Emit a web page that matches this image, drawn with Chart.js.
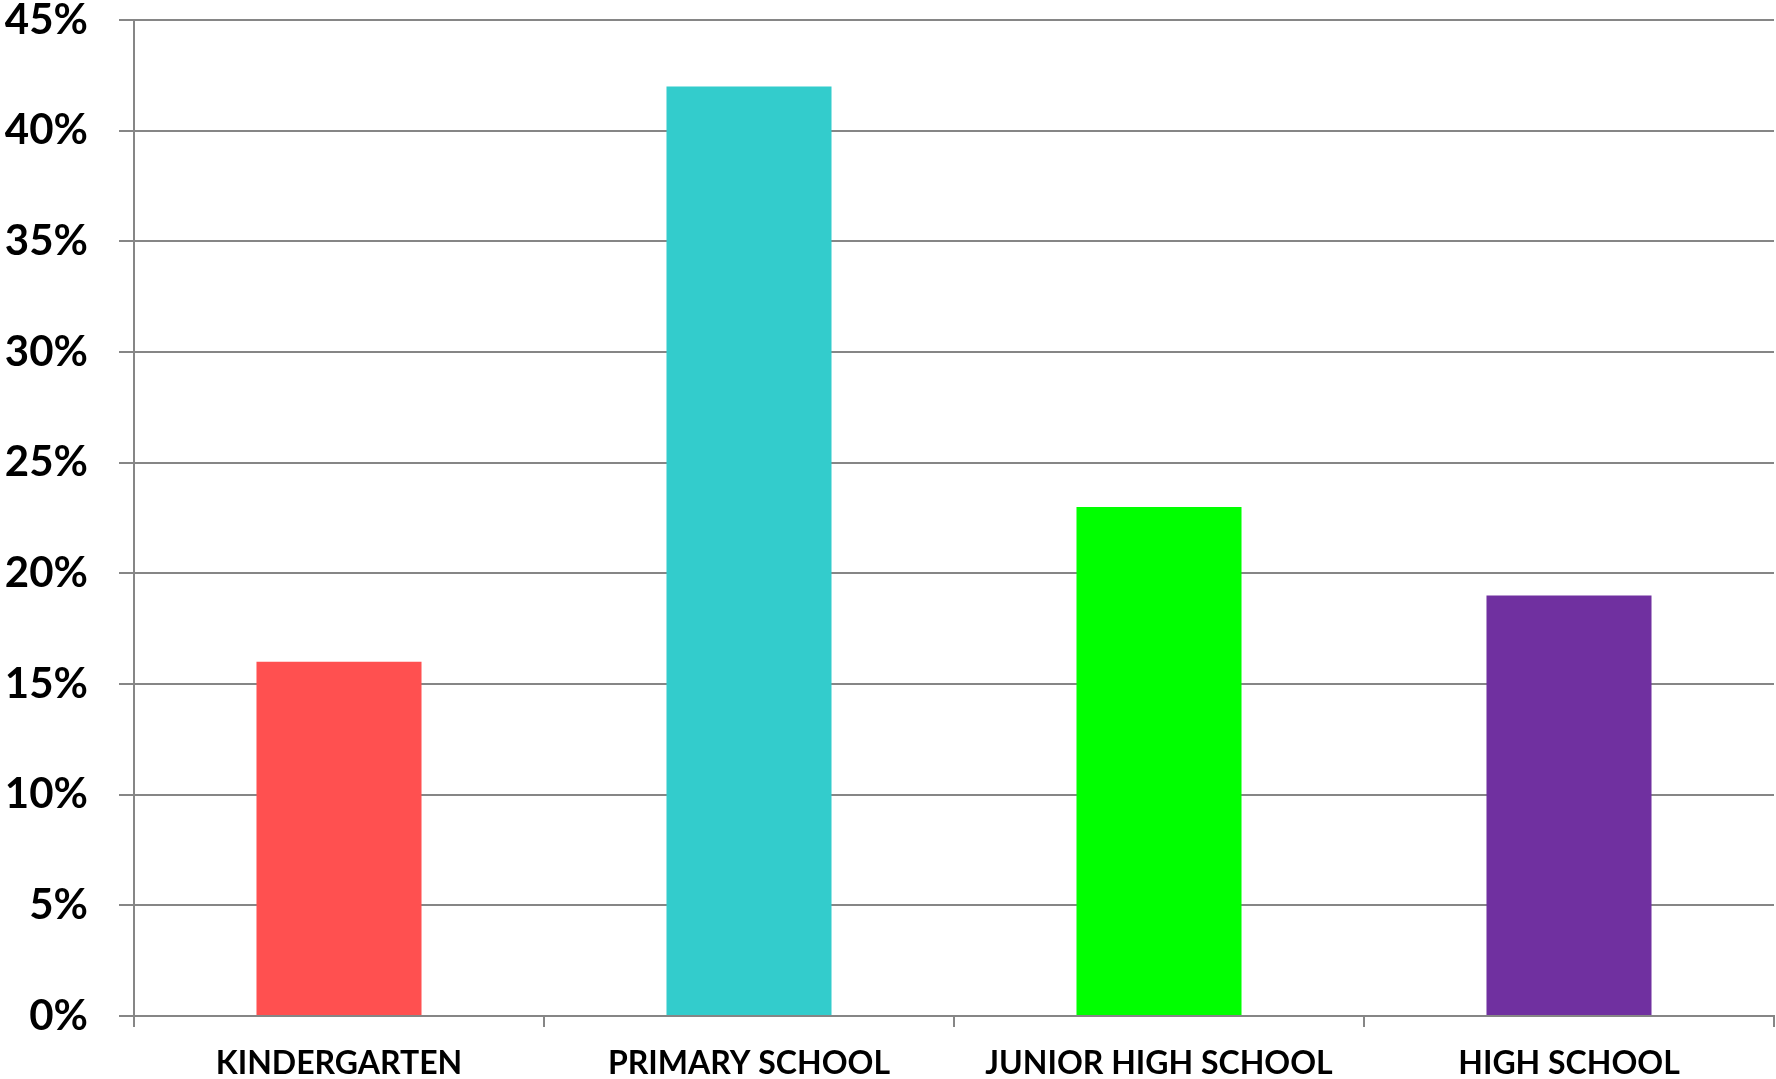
<!DOCTYPE html>
<html>
<head>
<meta charset="utf-8">
<style>
  html, body { margin: 0; padding: 0; background: #ffffff; }
  #wrap { width: 1776px; height: 1079px; position: relative; }
</style>
<script src="https://cdn.jsdelivr.net/npm/chart.js@4/dist/chart.umd.min.js"></script>
</head>
<body>
<div id="wrap"><canvas id="chart" width="1776" height="1079"></canvas></div>
<script>
// School level categories and their share (percent)
const categories = ['KINDERGARTEN', 'PRIMARY SCHOOL', 'JUNIOR HIGH SCHOOL', 'HIGH SCHOOL'];
const shares = [16, 42, 23, 19];
const barColors = ['#FF5050', '#33CCCC', '#00FF00', '#7030A0'];
const yTicks = [0, 5, 10, 15, 20, 25, 30, 35, 40, 45];

const gridGray = '#868686';

new Chart(document.getElementById('chart'), {
  type: 'bar',
  data: {
    labels: categories,
    datasets: [{
      data: shares,
      backgroundColor: barColors,
      borderWidth: 0,
      categoryPercentage: 0.5,
      barPercentage: 0.805
    }]
  },
  options: {
    responsive: false,
    animation: false,
    devicePixelRatio: 1,
    layout: { padding: { top: 20, right: 2, left: 0, bottom: 0 } },
    plugins: {
      legend: { display: false },
      tooltip: { enabled: false }
    },
    scales: {
      x: {
        offset: true,
        grid: {
          offset: true,
          drawOnChartArea: false,
          drawTicks: true,
          tickLength: 11,
          color: gridGray,
          lineWidth: 2
        },
        border: { display: true, color: gridGray, width: 2 },
        ticks: {
          color: '#000000',
          padding: 21,
          maxRotation: 0,
          autoSkip: false,
          font: { family: 'Lato', weight: 'bold', size: 32, lineHeight: 1 }
        },
        afterFit: (scale) => {
          scale.height = 63;
          scale.paddingLeft = 0;
          scale.paddingRight = 0;
        }
      },
      y: {
        min: 0,
        max: 45,
        afterBuildTicks: (scale) => {
          scale.ticks = yTicks.map(v => ({ value: v }));
        },
        grid: {
          color: gridGray,
          lineWidth: 2,
          drawTicks: true,
          tickLength: 15
        },
        border: { display: true, color: gridGray, width: 2 },
        ticks: {
          color: '#000000',
          padding: 31,
          callback: (v) => v + '%',
          font: { family: 'Lato', weight: 'bold', size: 42, lineHeight: 1 }
        },
        afterFit: (scale) => {
          scale.width = 134;
          scale.paddingTop = 0;
          scale.paddingBottom = 0;
        }
      }
    }
  }
});
</script>
</body>
</html>
